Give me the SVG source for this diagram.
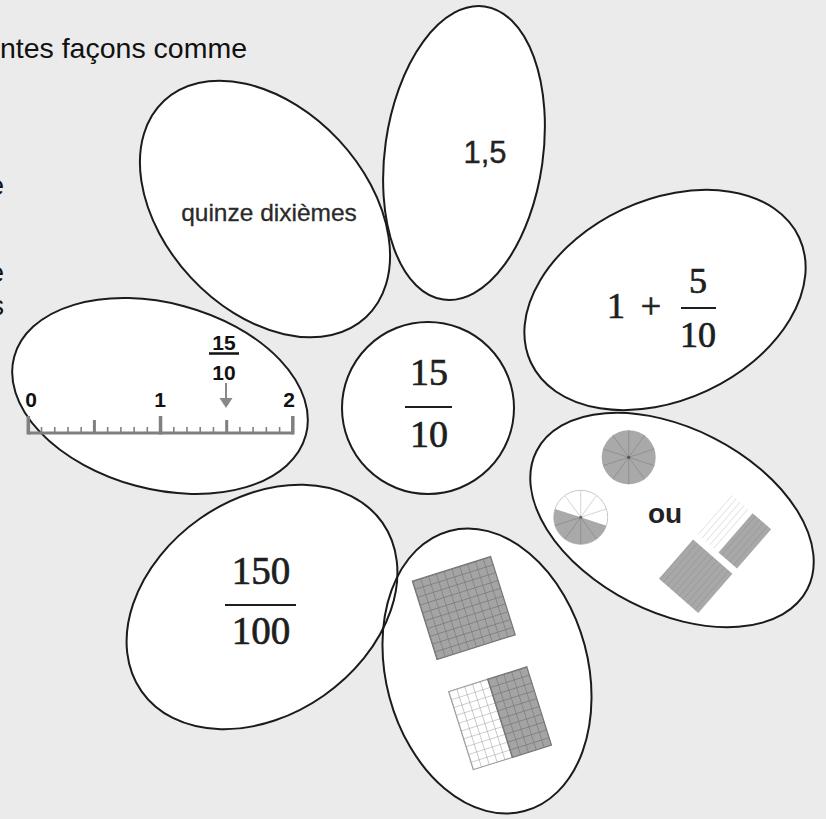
<svg xmlns="http://www.w3.org/2000/svg" width="826" height="819" viewBox="0 0 826 819">
<style>
.petal{fill:none;stroke:#1b1b1b;stroke-width:2}
.pfill{fill:#fff;stroke:none}
.math{font-family:"Liberation Serif","Times New Roman",serif;fill:#1e1e1e;stroke:#1e1e1e;stroke-width:0.7;text-anchor:middle}
.sans{font-family:"Liberation Sans",Arial,sans-serif}
.bar{stroke:#1e1e1e;stroke-width:2.2}
.nl{stroke:#808080;fill:none}
.nlab{font-family:"Liberation Sans",Arial,sans-serif;font-weight:bold;font-size:21px;fill:#111;text-anchor:middle}
.pieline{stroke:#8a8a8a;stroke-width:0.8}
</style>
<defs>
<ellipse id="sh-quinze" cx="0" cy="0" rx="148" ry="101" transform="translate(265,209) rotate(47)"/>
<ellipse id="sh-decimal" cx="0" cy="0" rx="79" ry="148" transform="translate(464,153) rotate(8)"/>
<ellipse id="sh-sum" cx="0" cy="0" rx="148" ry="100" transform="translate(665,300) rotate(-25)"/>
<ellipse id="sh-ou" cx="0" cy="0" rx="152" ry="92" transform="translate(672,520) rotate(27)"/>
<ellipse id="sh-grids" cx="0" cy="0" rx="101" ry="145" transform="translate(487,671) rotate(-15)"/>
<ellipse id="sh-hundredths" cx="0" cy="0" rx="147" ry="108" transform="translate(262,607) rotate(-35)"/>
<ellipse id="sh-line" cx="0" cy="0" rx="151" ry="93" transform="translate(160,396) rotate(15)"/>
<circle id="sh-center" cx="428" cy="408" r="86"/>
<pattern id="gridGrey" patternUnits="userSpaceOnUse" width="8.2" height="8.2">
<rect width="8.2" height="8.2" fill="#a4a4a4"/>
<path d="M0,0H8.2M0,0V8.2" stroke="#767676" stroke-width="1.2" fill="none"/>
</pattern>
<pattern id="gridWhite" patternUnits="userSpaceOnUse" width="8.2" height="8.2">
<rect width="8.2" height="8.2" fill="#fff"/>
<path d="M0,0H8.2M0,0V8.2" stroke="#9a9a9a" stroke-width="1" fill="none"/>
</pattern>
<pattern id="stripeGrey" patternUnits="userSpaceOnUse" width="5.2" height="52">
<rect width="5.2" height="52" fill="#a8a8a8"/>
<path d="M0,0V52" stroke="#8e8e8e" stroke-width="0.9"/>
</pattern>
<pattern id="stripeWhite" patternUnits="userSpaceOnUse" width="5.2" height="52">
<rect width="5.2" height="52" fill="#fff"/>
<path d="M0,0V52" stroke="#c4c4c4" stroke-width="0.9"/>
</pattern>
</defs>

<rect width="826" height="819" fill="#ebebeb"/>

<g id="page-text" class="sans" fill="#111" font-size="28.5">
<text x="247" y="58" text-anchor="end">ntes façons comme</text>
<text x="4" y="195" text-anchor="end" font-size="27">e</text>
<text x="4" y="282" text-anchor="end" font-size="27">e</text>
<text x="4" y="315" text-anchor="end" font-size="27">s</text>
</g>

<g id="petal-fills">
<use href="#sh-quinze" class="pfill"/>
<use href="#sh-decimal" class="pfill"/>
<use href="#sh-sum" class="pfill"/>
<use href="#sh-ou" class="pfill"/>
<use href="#sh-grids" class="pfill"/>
<use href="#sh-hundredths" class="pfill"/>
<use href="#sh-line" class="pfill"/>
<use href="#sh-center" class="pfill"/>
</g>

<g id="node-quinze">
<use href="#sh-quinze" class="petal"/>
<text class="sans" x="269" y="221" font-size="24.5" fill="#2a2a2a" stroke="#2a2a2a" stroke-width="0.3" text-anchor="middle">quinze dixièmes</text>
</g>

<g id="node-decimal">
<use href="#sh-decimal" class="petal"/>
<text class="sans" x="485" y="163" font-size="31" fill="#222" stroke="#222" stroke-width="0.4" text-anchor="middle">1,5</text>
</g>

<g id="node-sum">
<use href="#sh-sum" class="petal"/>
<text class="math" x="616" y="318" font-size="36">1</text>
<text class="math" x="651" y="318" font-size="36">+</text>
<text class="math" x="698" y="293" font-size="36">5</text>
<line class="bar" x1="681" y1="308" x2="716" y2="308"/>
<text class="math" x="698" y="347" font-size="36">10</text>
</g>

<g id="node-ou">
<use href="#sh-ou" class="petal"/>
<g transform="translate(628.7,457.3)">
<circle r="27" fill="#a9a9a9"/>
<path class="pieline" d="M25.68,8.34L-25.68,-8.34M15.87,21.84L-15.87,-21.84M0,27V-27M-15.87,21.84L15.87,-21.84M-25.68,8.34L25.68,-8.34"/>
<circle r="1.6" fill="#555"/>
</g>
<g transform="translate(580.7,517.3)">
<circle r="27" fill="#fff" stroke="#c8c8c8" stroke-width="1"/>
<path d="M0,0L25.68,8.34A27,27 0 0 1 -25.68,-8.34Z" fill="#a9a9a9"/>
<path d="M0,0L15.87,-21.84M0,0L0,-27M0,0L-15.87,-21.84M0,0L25.68,-8.34" stroke="#cfcfcf" stroke-width="0.9"/>
<path class="pieline" d="M0,0L15.87,21.84M0,0L0,27M0,0L-15.87,21.84M0,0L-25.68,8.34"/>
<circle r="1.5" fill="#666"/>
</g>
<text class="sans" x="665" y="523" font-size="28" font-weight="bold" fill="#222" text-anchor="middle">ou</text>
<g transform="translate(734.4,531.8) rotate(41)">
<rect x="-26" y="-26" width="24.5" height="52" fill="url(#stripeWhite)"/>
<rect x="1.5" y="-26" width="24.5" height="52" fill="url(#stripeGrey)"/>
</g>
<g transform="translate(695.7,576.3) rotate(41)">
<rect x="-26" y="-26" width="52" height="52" fill="url(#stripeGrey)"/>
</g>
</g>

<g id="node-grids">
<use href="#sh-grids" class="petal"/>
<g transform="translate(463.8,608) rotate(-17.5)">
<rect x="-41" y="-41" width="82" height="82" fill="url(#gridGrey)" stroke="#767676" stroke-width="1.2"/>
</g>
<g transform="translate(500,718.3) rotate(-17.5)">
<rect x="-41" y="-41" width="41" height="82" fill="url(#gridWhite)" stroke="#9a9a9a" stroke-width="1"/>
<rect x="0" y="-41" width="41" height="82" fill="url(#gridGrey)" stroke="#767676" stroke-width="1.2"/>
</g>
</g>

<g id="node-hundredths">
<use href="#sh-hundredths" class="petal"/>
<text class="math" x="261" y="584" font-size="39">150</text>
<line class="bar" x1="225" y1="605" x2="296" y2="605"/>
<text class="math" x="261" y="644" font-size="39">100</text>
</g>

<g id="node-numberline">
<use href="#sh-line" class="petal"/>
<path class="nl" stroke-width="3" d="M28.3,433H292.8"/>
<path class="nl" stroke-width="3.5" d="M28.3,416V434.5M160.55,416V434.5M292.8,416V434.5"/>
<path class="nl" stroke-width="3" d="M94.4,420V433M226.7,420V433"/>
<path class="nl" stroke-width="1.6" d="M41.5,427V433M54.75,427V433M67.98,427V433M81.2,427V433M107.65,427V433M120.9,427V433M134.1,427V433M147.3,427V433M173.8,427V433M187,427V433M200.2,427V433M213.45,427V433M239.9,427V433M253.1,427V433M266.35,427V433M279.6,427V433"/>
<text class="nlab" x="31" y="407">0</text>
<text class="nlab" x="160" y="407">1</text>
<text class="nlab" x="289" y="407">2</text>
<text class="nlab" x="224" y="350" font-size="24">15</text>
<line x1="209" y1="353.5" x2="239" y2="353.5" stroke="#111" stroke-width="2.5"/>
<text class="nlab" x="224" y="380" font-size="24">10</text>
<line x1="226" y1="383" x2="226" y2="400" stroke="#888" stroke-width="2"/>
<polygon points="219.5,398 232.5,398 226,408" fill="#888"/>
</g>

<g id="node-center">
<use href="#sh-center" class="petal"/>
<text class="math" x="429" y="385" font-size="38">15</text>
<line class="bar" x1="405" y1="407" x2="452" y2="407"/>
<text class="math" x="429" y="447" font-size="38">10</text>
</g>

<g id="connectors"/>
</svg>
